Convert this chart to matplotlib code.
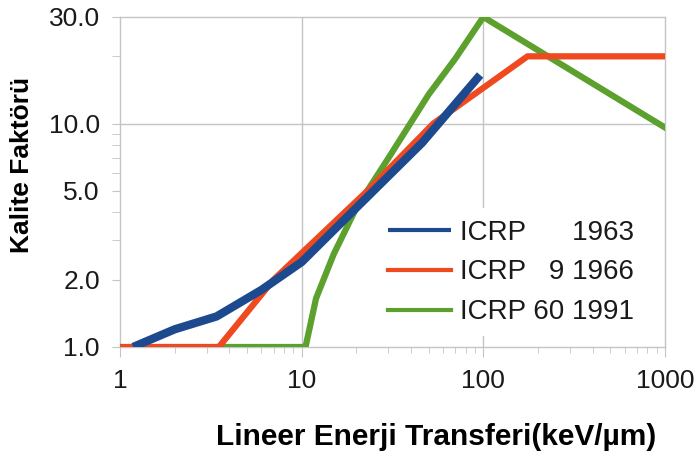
import matplotlib
matplotlib.use("Agg")
import matplotlib.pyplot as plt
from matplotlib.ticker import FixedLocator, NullFormatter, FixedFormatter

plt.rcParams['font.family'] = ['Liberation Sans', 'DejaVu Sans']

# ICRP 1963
let_1963 = [1.18, 2.0, 3.4, 6.0, 10.0, 20.0, 46.0, 96.0]
q_1963 = [1.0, 1.2, 1.37, 1.8, 2.4, 4.2, 8.2, 16.5]
# ICRP 9 1966
let_1966 = [1.0, 3.5, 7.0, 23.0, 53.0, 175.0, 1000.0]
q_1966 = [1.0, 1.0, 2.0, 5.0, 10.0, 20.0, 20.0]
# ICRP 60 1991
let_1991 = [3.5, 10.5, 12.0, 15.0, 20.0, 30.0, 50.0, 70.0, 100.0, 1000.0]
q_1991 = [1.0, 1.0, 1.65, 2.6, 4.2, 7.0, 13.5, 19.5, 30.0, 9.6]

labels = ["ICRP      1963", "ICRP   9 1966", "ICRP 60 1991"]
y_ticks = [1, 2, 5, 10, 30]
y_ticklabels = ["1.0", "2.0", "5.0", "10.0", "30.0"]
x_ticks = [1, 10, 100, 1000]
x_ticklabels = ["1", "10", "100", "1000"]

c_blue = "#1d4a8e"
c_red = "#ef4a1f"
c_green = "#5ca02e"
gray = "#c4c4c4"

fig = plt.figure(figsize=(6.97, 4.55), dpi=100)
ax = fig.add_axes([120 / 697, 1 - 347 / 455, 545 / 697, 330 / 455])

ax.set_xscale('log')
ax.set_yscale('log')
ax.set_xlim(1, 1000)
ax.set_ylim(1, 30)

# grid lines only at a few positions
ax.axhline(10, color=gray, lw=1, zorder=1)
for xv in (10, 100):
    ax.axvline(xv, color=gray, lw=1, zorder=1)

l3, = ax.plot(let_1991, q_1991, color=c_green, lw=4.5, label=labels[2], zorder=3)
l2, = ax.plot(let_1966, q_1966, color=c_red, lw=4.5, label=labels[1], zorder=4)
l1, = ax.plot(let_1963, q_1963, color=c_blue, lw=6, label=labels[0], zorder=5,
              solid_capstyle='butt')

for s in ax.spines.values():
    s.set_color(gray)
    s.set_linewidth(1)

ax.yaxis.set_major_locator(FixedLocator(y_ticks))
ax.yaxis.set_major_formatter(FixedFormatter(y_ticklabels))
ax.yaxis.set_minor_locator(FixedLocator([3, 4, 6, 7, 8, 9, 20]))
ax.yaxis.set_minor_formatter(NullFormatter())
ax.xaxis.set_major_locator(FixedLocator(x_ticks))
ax.xaxis.set_major_formatter(FixedFormatter(x_ticklabels))
ax.xaxis.set_minor_locator(FixedLocator(
    [2, 3, 4, 5, 6, 7, 8, 9, 20, 30, 40, 50, 60, 70, 80, 90,
     200, 300, 400, 500, 600, 700, 800, 900]))
ax.xaxis.set_minor_formatter(NullFormatter())

ax.tick_params(axis='y', which='both', direction='out', length=5.5, color=gray,
               labelsize=19, pad=9, labelcolor='#1a1a1a')
ax.tick_params(axis='x', which='major', direction='out', length=7, color=gray,
               labelsize=19, pad=9, labelcolor='#1a1a1a')
ax.tick_params(axis='x', which='minor', direction='out', length=4, color=gray)

leg = ax.legend(handles=[l1, l2, l3], loc='upper left',
                bbox_to_anchor=(0.472, 0.42), borderaxespad=0,
                frameon=True, framealpha=1,
                facecolor='white', edgecolor='none', fontsize=20,
                handlelength=2.27, handletextpad=0.3, labelspacing=0.5,
                borderpad=0.4, fancybox=False)
leg.set_zorder(6)
for h in leg.legend_handles:
    h.set_linewidth(3)
for t in leg.get_texts():
    t.set_color('#1a1a1a')

fig.text(436 / 697, 1 - 437 / 455, "Lineer Enerji Transferi(keV/µm)",
         fontsize=21.5, fontweight='bold', ha='center', va='center')
fig.text(22 / 697, 1 - 165 / 455, "Kalite Faktörü", fontsize=19,
         fontweight='bold', ha='center', va='center', rotation=90)

fig.savefig("out.png", dpi=100)
